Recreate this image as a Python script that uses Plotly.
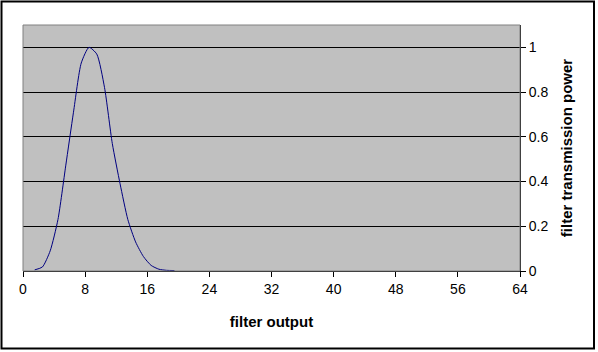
import plotly.graph_objects as go

# data
x_vals = [1.5, 2.5, 3.5, 4.5, 5.5, 6.5, 7.5, 8.5, 9.5, 10.5, 11.5, 12.5, 13.5, 14.5, 15.5, 16.5, 17.5, 18.5, 19.5]
power = [0.005, 0.018, 0.09, 0.23, 0.47, 0.71, 0.93, 1.0, 0.97, 0.82, 0.57, 0.39, 0.23, 0.13, 0.065, 0.025, 0.008, 0.003, 0.002]
x_ticks = [0, 8, 16, 24, 32, 40, 48, 56, 64]
y_ticks = [0, 0.2, 0.4, 0.6, 0.8, 1]
y_labels = ["0", "0.2", "0.4", "0.6", "0.8", "1"]

W, H = 598, 352
L, R, T, B = 23, 78, 25, 81
pw, ph = W - L - R, H - T - B

fig = go.Figure()
fig.add_trace(go.Scatter(x=x_vals, y=power, mode="lines",
                         line=dict(color="#000080", width=1, shape="spline", smoothing=0.6),
                         showlegend=False, hoverinfo="skip"))

fig.update_layout(
    width=W, height=H,
    margin=dict(l=L, r=R, t=T, b=B, pad=0),
    paper_bgcolor="white",
    plot_bgcolor="#C0C0C0",
    font=dict(family="Liberation Sans, Arial, sans-serif", size=12, color="black"),
    xaxis=dict(range=[0, 64], tickvals=x_ticks, ticktext=[str(v) for v in x_ticks],
               showgrid=False, zeroline=False, showline=True, linecolor="black", linewidth=1,
               ticks="outside", ticklen=5, tickcolor="black", tickwidth=1,
               tickfont=dict(size=14),
               title=dict(text="<b>filter output</b>", font=dict(size=15), standoff=20)),
    yaxis=dict(range=[0, 1.1], side="right", tickvals=y_ticks, ticktext=y_labels,
               showgrid=True, gridcolor="black", gridwidth=1, zeroline=False,
               showline=True, linecolor="black", linewidth=1,
               ticks="outside", ticklen=5, tickcolor="black", tickwidth=1,
               tickfont=dict(size=14),
               title=dict(text="<b>filter transmission power</b>", font=dict(size=15), standoff=14)),
)

# plot-area frame (gray)
fig.add_shape(type="rect", xref="paper", yref="paper", x0=0, x1=1, y0=0, y1=1,
              line=dict(color="#808080", width=1), layer="above")
# outer chart border
fig.add_shape(type="rect", xref="paper", yref="paper",
              x0=(1.5 - L) / pw, x1=(594 - L) / pw,
              y0=(T + ph - 348.5) / ph, y1=(T + ph - 1.5) / ph,
              line=dict(color="black", width=2), layer="above")

fig.write_html("out.html")
